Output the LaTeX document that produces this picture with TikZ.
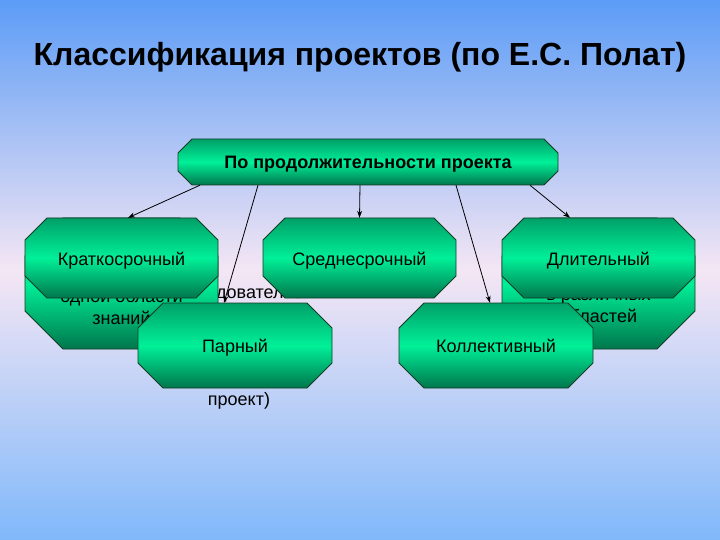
\documentclass[tikz,border=0pt]{standalone}
\usepackage{fontspec}
\setmainfont{Liberation Sans}
\usetikzlibrary{arrows.meta}
\definecolor{bgtop}{RGB}{92,156,246}
\definecolor{bgmid}{RGB}{244,230,244}
\definecolor{bgbot}{RGB}{128,184,250}
\definecolor{gtop}{RGB}{0,160,104}
\definecolor{gmid}{RGB}{0,240,152}
\definecolor{gbot}{RGB}{0,118,76}
\definecolor{gedge}{RGB}{20,60,36}
\tikzset{
  boxshade/.style={top color=gtop, bottom color=gbot, middle color=gmid, draw=gedge, line width=0.9pt},
  boxtext/.style={inner sep=0pt, font=\fontsize{18}{22}\selectfont, align=center},
  conn/.style={-{Stealth[length=7pt,width=5pt]}, line width=0.8pt, black},
}
% #1 name, #2 cx, #3 cy, #4 half width, #5 half height, #6 chamfer, #7 text
\newcommand\octbox[7]{%
  \shade[boxshade] ({#2-#4+#6},{#3-#5}) -- ({#2+#4-#6},{#3-#5}) -- ({#2+#4},{#3-#5+#6})
    -- ({#2+#4},{#3+#5-#6}) -- ({#2+#4-#6},{#3+#5}) -- ({#2-#4+#6},{#3+#5})
    -- ({#2-#4},{#3+#5-#6}) -- ({#2-#4},{#3-#5+#6}) -- cycle;
  \node[boxtext, text height=14pt, text depth=0pt, minimum width={(2*#4)*1pt}, minimum height={(2*#5)*1pt}] (#1) at (#2,#3) {#7};
}
\begin{document}
\begin{tikzpicture}[x=1pt,y=-1pt]
\useasboundingbox (0,0) rectangle (720,540);
\shade[top color=bgtop, bottom color=bgbot, middle color=bgmid] (0,0) rectangle (720,540);
\node[font=\fontsize{32}{38}\selectfont\bfseries] (title) at (360,57) {Классификация проектов (по Е.С. Полат)};
% partly hidden texts
\node[boxtext, anchor=base west] (hid1) at (216,298) {\llap{иссле}довательский};
\node[boxtext, anchor=base] (hid2) at (239,405) {проект)};
% boxes behind
\octbox{bl}{121.5}{283.5}{96.5}{65.5}{38}{}
\node[boxtext] (blt) at (121.5,307) {одной области\\знаний};
\octbox{br}{598.5}{283.5}{96.5}{65.5}{38}{}
\node[boxtext] (brt) at (598.5,307) {в различных\\областей};
% second row
\octbox{k}{121.5}{258}{96.5}{40}{22}{Краткосрочный}
\octbox{s}{359.5}{258}{96.5}{40}{22}{Среднесрочный}
\octbox{d}{598.5}{258}{96.5}{40}{22}{Длительный}
% top box
\octbox{top}{368}{162}{190}{23}{14}{\bfseries По продолжительности проекта}
% third row
\octbox{p}{235}{345.5}{97}{42.5}{25}{Парный}
\octbox{c}{496}{345.5}{97}{42.5}{25}{Коллективный}
% connectors
\draw[conn] ([xshift=-168pt]top.south) -- ([xshift=6.5pt]k.north);
\draw[conn] ([xshift=-110pt]top.south) -- ([xshift=-11pt]p.north);
\draw[conn] ([xshift=-8pt]top.south) -- (s.north);
\draw[conn] ([xshift=88pt]top.south) -- ([xshift=-6pt]c.north);
\draw[conn] ([xshift=162pt]top.south) -- ([xshift=-28.5pt]d.north);
\end{tikzpicture}
\end{document}
